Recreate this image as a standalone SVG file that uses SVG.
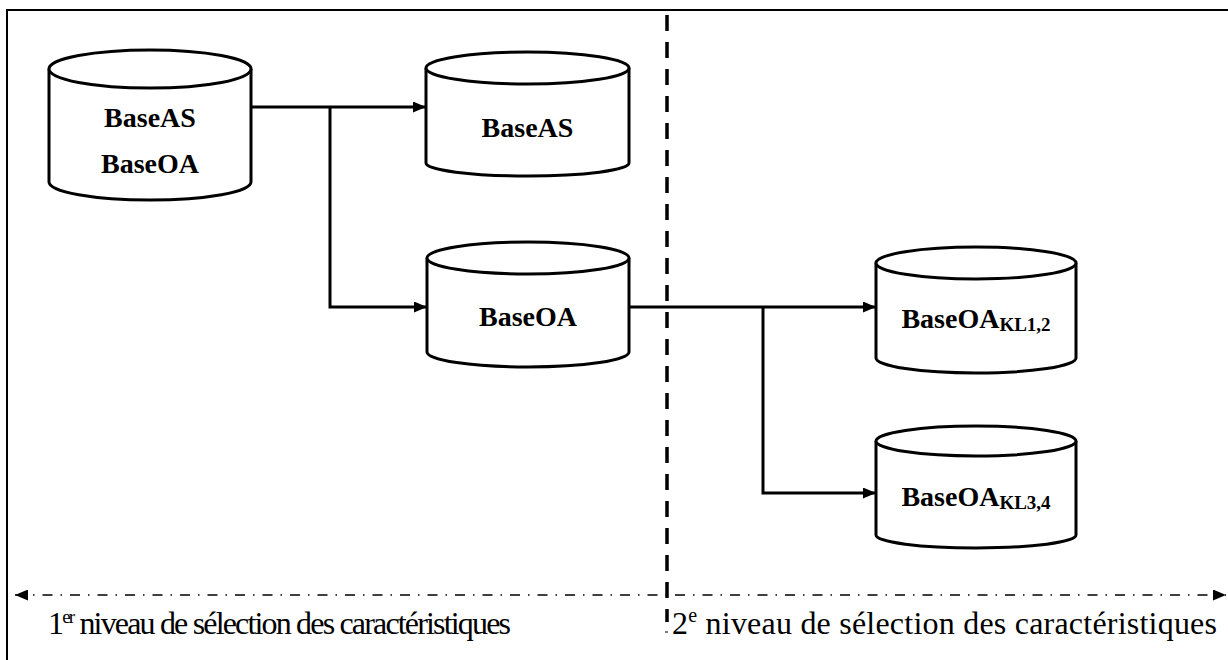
<svg xmlns="http://www.w3.org/2000/svg" width="1228" height="660" viewBox="0 0 1228 660">
<style>
.cyl{fill:#fff;stroke:#000;stroke-width:3}
.lbl{font-family:'Liberation Serif','Tinos','DejaVu Serif',serif;font-weight:bold;font-size:28px;fill:#000;text-anchor:middle}
.sub{font-size:19px}
.con{fill:none;stroke:#000;stroke-width:3}
.cap{font-family:'Liberation Serif','Tinos','DejaVu Serif',serif;font-size:32px;fill:#000}
</style>
<defs>
<marker id="ah" viewBox="0 0 13 11" refX="13" refY="5.5" markerWidth="13" markerHeight="11" markerUnits="userSpaceOnUse" orient="auto">
<path d="M0,0 L13,5.5 L0,11 Z" fill="#000"/>
</marker>
<marker id="ah2" viewBox="0 0 13 11" refX="13" refY="5.5" markerWidth="13" markerHeight="11" markerUnits="userSpaceOnUse" orient="auto-start-reverse">
<path d="M0,0 L13,5.5 L0,11 Z" fill="#000"/>
</marker>
</defs>
<rect width="1228" height="660" fill="#fff"/>
<g id="frame">
<path d="M7,665 V10 H1230" fill="none" stroke="#000" stroke-width="2"/>
</g>
<g id="divider">
<line x1="667" y1="15" x2="667" y2="622" stroke="#000" stroke-width="3.5" stroke-dasharray="16 11"/>
<line x1="665" y1="632" x2="668" y2="632" stroke="#000" stroke-width="1"/>
</g>
<g id="levels">
<line x1="15" y1="595" x2="1226" y2="595" stroke="#000" stroke-width="1.5" stroke-dasharray="10 8 1.5 8" marker-start="url(#ah2)" marker-end="url(#ah)"/>
<text class="cap" x="48" y="634" font-size="29" textLength="463" lengthAdjust="spacing">1<tspan font-size="19" dy="-11">er</tspan><tspan dy="11"> niveau de sélection des caractéristiques</tspan></text>
<text class="cap" x="672" y="634" font-size="33" textLength="545" lengthAdjust="spacing">2<tspan font-size="20" dy="-12">e</tspan><tspan dy="12"> niveau de sélection des caractéristiques</tspan></text>
</g>
<g id="connectors">
<path class="con" d="M251,107 H426" marker-end="url(#ah)"/>
<path class="con" d="M330,107 V307 H427" marker-end="url(#ah)"/>
<path class="con" d="M629,307 H876" marker-end="url(#ah)"/>
<path class="con" d="M763,307 V493 H876" marker-end="url(#ah)"/>
</g>
<g id="node-base">
<path class="cyl" d="M49,69 V182 A101,18 0 0 0 251,182 V69"/>
<ellipse class="cyl" cx="150" cy="69" rx="101" ry="19"/>
<text class="lbl" x="150" y="127">BaseAS</text>
<text class="lbl" x="150" y="173">BaseOA</text>
</g>
<g id="node-baseas">
<path class="cyl" d="M426,68 V163 A101.5,13 0 0 0 629,163 V68"/>
<ellipse class="cyl" cx="527.5" cy="68" rx="101.5" ry="16"/>
<text class="lbl" x="527.5" y="137">BaseAS</text>
</g>
<g id="node-baseoa">
<path class="cyl" d="M427,258 V352 A101,15 0 0 0 629,352 V258"/>
<ellipse class="cyl" cx="528" cy="258" rx="101" ry="16"/>
<text class="lbl" x="528" y="326">BaseOA</text>
</g>
<g id="node-kl12">
<path class="cyl" d="M876,263 V358 A100,15 0 0 0 1076,358 V263"/>
<ellipse class="cyl" cx="976" cy="263" rx="100" ry="16"/>
<text class="lbl" x="976" y="328">BaseOA<tspan class="sub" dy="3">KL1,2</tspan></text>
</g>
<g id="node-kl34">
<path class="cyl" d="M876,441 V535 A100,13 0 0 0 1076,535 V441"/>
<ellipse class="cyl" cx="976" cy="441" rx="100" ry="15"/>
<text class="lbl" x="976" y="506">BaseOA<tspan class="sub" dy="3">KL3,4</tspan></text>
</g>
</svg>
